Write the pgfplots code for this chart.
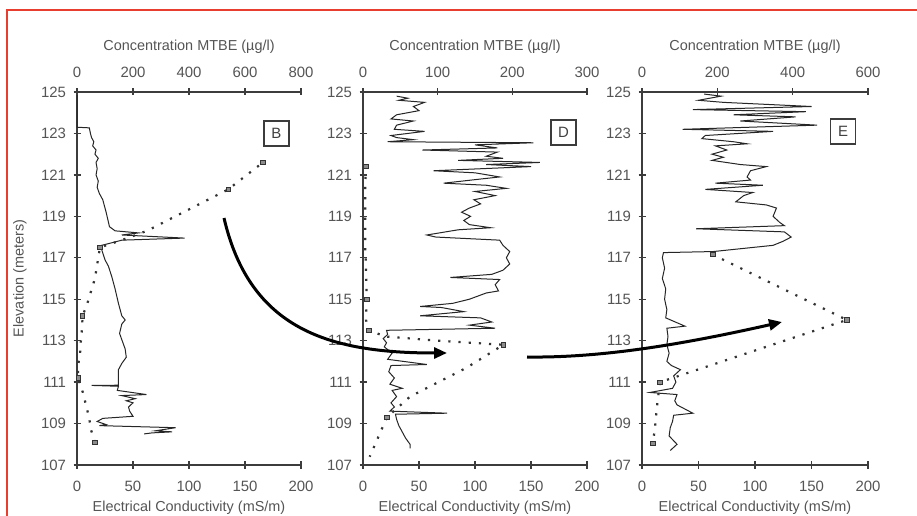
\documentclass[border=0pt]{standalone}
\usepackage{pgfplots}
\pgfplotsset{compat=1.18}
\usepackage{fontspec}
\setmainfont{Liberation Sans}
\usetikzlibrary{arrows.meta}
\definecolor{frame}{RGB}{232,62,48}
\definecolor{ax}{RGB}{60,60,60}
\definecolor{txt}{RGB}{85,85,85}

\pgfplotsset{
 panel/.style={scale only axis, height=373bp, ymin=107, ymax=125, ytick={107,109,...,125},
   tick align=center, major tick length=7bp,
   axis line style={-, line width=1.5bp, ax},
   every tick/.style={line width=1.3bp, ax},
   tick label style={font=\fontsize{15}{17}\selectfont, text=txt},
   label style={font=\fontsize{14.5}{16}\selectfont, text=txt},
   /pgf/number format/assume math mode=true, clip=false},
 ecaxis/.style={panel, xmin=0, xmax=200, xtick={0,50,...,200},
   axis x line*=bottom, axis y line*=left,
   xticklabel style={yshift=-9bp}, yticklabel style={xshift=-4bp},
   xlabel={Electrical Conductivity (mS/m)},
   xlabel style={at={(axis description cs:0.5,0)}, anchor=center, yshift=-43bp}},
 mtbeaxis/.style={panel, axis x line*=top, hide y axis,
   xticklabel style={yshift=7bp},
   xlabel={Concentration MTBE (µg/l)},
   xlabel style={at={(axis description cs:0.5,1)}, anchor=center, yshift=45bp}},
 ec/.style={black!85, line width=1bp},
 mtbe/.style={black!80, line width=2.2bp, dash pattern=on 2.2bp off 8bp},
 mk/.style={only marks, mark=square*, mark size=2.2bp, mark options={draw=black!80, fill=black!45, line width=0.8bp}},
}
\tikzset{lab/.style={draw=ax, line width=1.3bp, minimum size=25bp, inner sep=0pt, fill=white, font=\fontsize{15}{17}\selectfont, text=black!75}}

\begin{document}
\begin{tikzpicture}
\useasboundingbox (0,0) rectangle (917bp,516bp);
\fill[white] (0,0) rectangle (917bp,516bp);
\draw[frame, line width=2.5bp] (7bp,0) -- (7bp,506bp) -- (917bp,506bp);

% ---------------- Panel B ----------------
\begin{axis}[ecaxis, width=224bp, at={(77bp,51bp)}, anchor=south west,
   ylabel={Elevation (meters)},
   ylabel style={at={(axis description cs:-0.2545,0.5)}, anchor=center}]
\addplot[ec] coordinates {
(0,125) (0,123.3) (11,123.27) (12,123.0) (13,122.8) (15,122.6) (14,122.4) (17,122.2) (16,122.0)
(19,121.8) (17,121.6) (18,121.3) (17,121.0) (19,120.7) (18,120.4) (20,120.1) (23,119.8) (26,119.2)
(29,118.5) (34,118.3) (55,118.2) (40,118.1) (96,117.95) (40,117.85) (33,117.75) (22,117.6) (22,117.4)
(25,116.9) (28,116.6) (31,116.1) (34,115.5) (37,114.8) (40,114.2) (43,114.0) (40,113.8) (38,113.35)
(41,112.9) (43,112.6) (44,112.2) (40,111.9) (37,111.6) (37,111.0) (37,110.85) (13,110.84) (37,110.8)
(36,110.6) (62,110.4) (40,110.35) (52,110.2) (44,110.1) (50,110.0) (46,109.8) (47,109.6) (50,109.35)
(23,109.25) (18,109.1) (26,108.95) (20,108.9) (88,108.8) (76,108.7) (70,108.65) (85,108.6) (67,108.55) (60,108.5)
};
\node[lab] at (axis cs:178,123.0) {B};
\end{axis}
\begin{axis}[mtbeaxis, width=224bp, at={(77bp,51bp)}, anchor=south west,
   xmin=0, xmax=800, xtick={0,200,...,800}]
\addplot[mtbe] coordinates {
(64,108.1) (50,108.7) (43,109.3) (32,109.9) (21,110.5) (4,111.2) (4,111.8) (11,112.4) (14,113.0)
(18,113.6) (20,114.2) (37,114.8) (64,116.0) (82,117.5) (170,117.9) (250,118.3) (540,120.3) (664,121.6)
};
\addplot[mk] coordinates {(64,108.1) (4,111.2) (20,114.2) (82,117.5) (540,120.3) (664,121.6)};
\end{axis}

% ---------------- Panel D ----------------
\begin{axis}[ecaxis, width=224bp, at={(363bp,51bp)}, anchor=south west]
\addplot[ec] coordinates {
(30,124.8) (40,124.7) (32,124.6) (55,124.5) (45,124.3) (50,124.1) (30,123.9) (25,123.7) (45,123.6)
(30,123.4) (28,123.2) (55,123.1) (40,123.0) (25,122.9) (30,122.8) (45,122.7) (22,122.6) (152,122.55)
(100,122.45) (120,122.3) (53,122.2) (120,122.1) (110,121.9) (125,121.8) (85,121.7) (158,121.6) (110,121.5)
(150,121.4) (63,121.2) (100,121.1) (122,120.9) (105,120.8) (72,120.6) (110,120.5) (128,120.35) (100,120.2)
(118,120.0) (99,119.8) (105,119.6) (95,119.4) (88,119.2) (96,119.0) (90,118.8) (95,118.6) (114,118.45)
(85,118.35) (57,118.1) (65,118.0) (122,117.85) (125,117.6) (131,117.3) (128,117.0) (131,116.7) (125,116.4)
(115,116.2) (78,116.05) (122,115.95) (118,115.7) (121,115.4) (110,115.3) (95,115.0) (80,114.8) (51,114.65)
(70,114.6) (90,114.4) (51,114.2) (105,114.1) (115,113.9) (95,113.75) (118,113.6) (21,113.5) (22,113.3)
(18,113.1) (21,112.9) (19,112.7) (26,112.4) (22,112.1) (57,111.85) (25,111.8) (23,111.5) (28,111.2)
(24,110.9) (35,110.7) (26,110.6) (30,110.3) (25,110.0) (28,109.8) (24,109.6) (75,109.5) (29,109.45)
(30,109.2) (32,108.9) (35,108.6) (38,108.3) (42,108.0) (42,107.8)
};
\node[lab] at (axis cs:179,123.05) {D};
\end{axis}
\begin{axis}[mtbeaxis, width=224bp, at={(363bp,51bp)}, anchor=south west,
   xmin=0, xmax=300, xtick={0,100,...,300}]
\addplot[mtbe] coordinates {
(4,121.4) (3,120.5) (3,119.5) (3,118.5) (3,117.5) (4,116.5) (5,115.0) (4,114.0) (8,113.5) (30,113.2)
(100,113.0) (188,112.8) (139,111.7) (63,110.3) (32,109.3) (9,107.4)
};
\addplot[mk] coordinates {(4,121.4) (5,115.0) (8,113.5) (188,112.8) (32,109.3)};
\end{axis}

% ---------------- Panel E ----------------
\begin{axis}[ecaxis, width=226bp, at={(642bp,51bp)}, anchor=south west]
\addplot[ec] coordinates {
(55,124.9) (70,124.8) (60,124.7) (50,124.6) (72,124.5) (150,124.3) (45,124.15) (145,124.05) (81,123.9)
(136,123.8) (87,123.6) (155,123.4) (36,123.2) (116,123.1) (56,122.9) (53,122.75) (81,122.6) (93,122.5)
(65,122.4) (75,122.2) (62,122.0) (72,121.85) (62,121.7) (87,121.5) (110,121.4) (96,121.2) (93,120.9)
(96,120.75) (65,120.6) (107,120.5) (56,120.3) (98,120.15) (90,120.0) (83,119.7) (110,119.55) (119,119.4)
(116,119.0) (122,118.7) (126,118.55) (48,118.4) (126,118.25) (132,118.0) (125,117.8) (116,117.6)
(63,117.3) (19,117.25) (18,117.0) (20,116.5) (18,116.0) (21,115.5) (20,115.0) (22,114.5) (21,114.1)
(38,113.7) (22,113.6) (23,113.2) (22,112.8) (24,112.4) (22,112.0) (26,111.8) (34,111.6) (28,111.3)
(30,111.0) (27,110.7) (7,110.5) (31,110.4) (29,110.1) (31,109.9) (45,109.5) (28,109.4) (27,109.1)
(25,108.8) (24,108.4) (31,108.0) (25,107.7)
};
\node[lab] at (axis cs:178,123.1) {E};
\end{axis}
\begin{axis}[mtbeaxis, width=226bp, at={(642bp,51bp)}, anchor=south west,
   xmin=0, xmax=600, xtick={0,200,...,600}]
\addplot[mtbe] coordinates {
(188,117.15) (544,114.0) (106,111.35) (48,111.0) (42,110.2) (38,109.5) (35,108.9) (29,108.05)
};
\addplot[mk] coordinates {(188,117.15) (544,114.0) (48,111.0) (29,108.05)};
\end{axis}

% ---------------- arrows ----------------
\draw[black, line width=3bp, -{Triangle[length=13bp,width=11bp]}]
  (224bp,298bp) .. controls (250bp,186bp) and (330bp,163bp) .. (447bp,163bp);
\draw[black, line width=3bp, -{Triangle[length=13bp,width=11bp]}]
  (527bp,159bp) .. controls (600bp,158bp) and (680bp,171bp) .. (782bp,194bp);
\end{tikzpicture}
\end{document}
